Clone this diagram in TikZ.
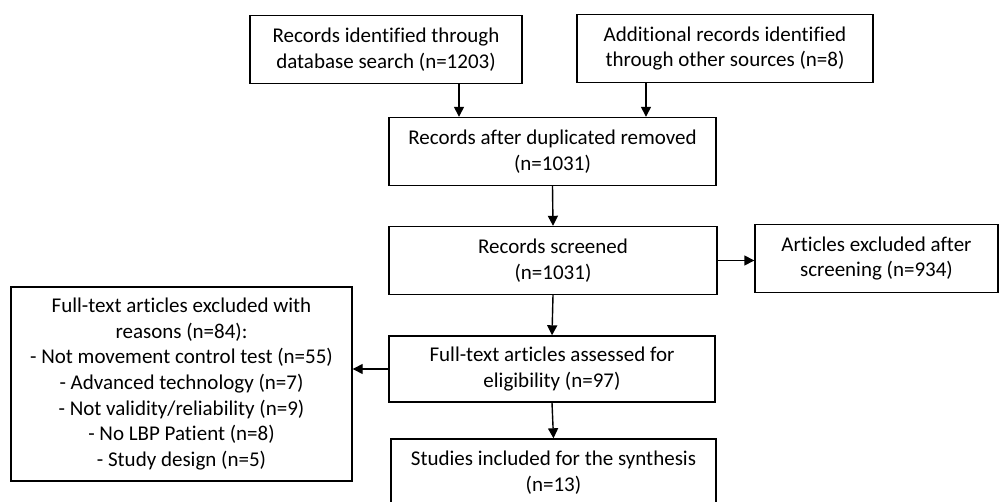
\documentclass[tikz,border=0pt]{standalone}
\usepackage{fontspec}
\setmainfont{Carlito}[Ligatures=NoCommon]
\usetikzlibrary{arrows.meta}

\tikzset{
  flowbox/.style={draw, line width=1.4pt, align=center, inner sep=0pt,
    font=\fontsize{21}{25.7}\selectfont, minimum height=68pt},
  flowarr/.style={line width=1.4pt, -{Triangle[width=10pt,length=10pt]}}
}

\begin{document}
\begin{tikzpicture}[x=1pt, y=-1pt]
  \clip (0, 0) rectangle (999, 502);

  \node[flowbox, minimum width=272pt] (ident) at (386, 49.5)
    {Records identified through\\database search (n=1203)};
  \node[flowbox, minimum width=296pt] (other) at (725, 48.5)
    {Additional records identified\\through other sources (n=8)};
  \node[flowbox, minimum width=327pt] (dup) at (552.5, 151.5)
    {Records after duplicated removed\\(n=1031)};
  \node[flowbox, minimum width=328pt] (screened) at (553, 260.5)
    {Records screened\\(n=1031)};
  \node[flowbox, minimum width=243pt] (excl) at (876.5, 258.5)
    {Articles excluded after\\screening (n=934)};
  \node[flowbox, minimum width=326pt, minimum height=66pt] (full) at (552, 369)
    {Full-text articles assessed for\\eligibility (n=97)};
  \node[flowbox, minimum width=325pt] (studies) at (553.5, 473)
    {Studies included for the synthesis\\(n=13)};
  \node[flowbox, minimum width=341pt, minimum height=194pt] (reasons) at (181.5, 384)
    {Full-text articles excluded with\\reasons (n=84):\\
     - Not movement control test (n=55)\\- Advanced technology (n=7)\\
     - Not validity/reliability (n=9)\\- No LBP Patient (n=8)\\
     - Study design (n=5)};

  \draw[flowarr] ([xshift=73pt]ident.south) -- ([xshift=73pt]ident.south |- dup.north);
  \draw[flowarr] ([xshift=-79pt]other.south) -- ([xshift=-79pt]other.south |- dup.north);
  \draw[flowarr] (dup.south) -- (screened.north);
  \draw[flowarr] (screened.east) -- (screened.east -| excl.west);
  \draw[flowarr] (screened.south) -- (full.north);
  \draw[flowarr] (full.west) -- (full.west -| reasons.east);
  \draw[flowarr] (full.south) -- (studies.north);
\end{tikzpicture}
\end{document}
